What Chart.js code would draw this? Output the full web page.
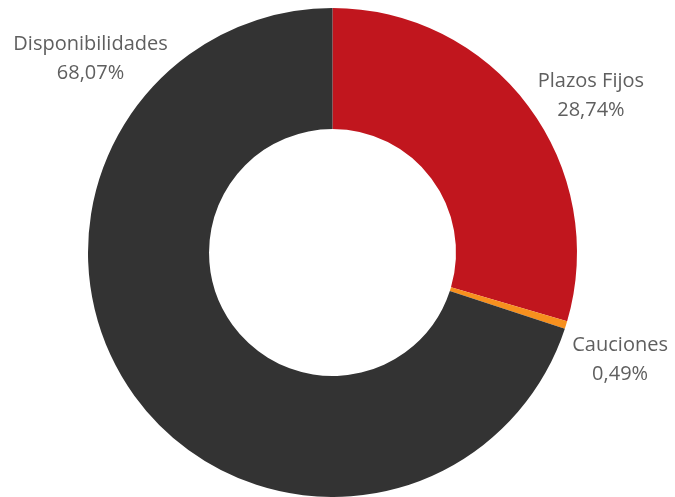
<!DOCTYPE html>
<html>
<head>
<meta charset="utf-8">
<script src="https://cdn.jsdelivr.net/npm/chart.js@4"></script>
<style>
  html, body { margin: 0; padding: 0; background: #fff; }
  #wrap { width: 675px; height: 497px; position: relative; }
</style>
</head>
<body>
<div id="wrap"><canvas id="chart"></canvas></div>
<script>
// Chart data
const categories = ['Plazos Fijos', 'Cauciones', 'Disponibilidades'];
const shares = [28.74, 0.49, 68.07];
const sliceColors = ['#C1161E', '#F7901E', '#333333'];

// where each outside label sits: angle clockwise from 12 o'clock, distance as share of outer radius
const labelSpots = [
    { angle: 58.7, dist: 1.237 },
    { angle: 110.4, dist: 1.255 },
    { angle: 308.7, dist: 1.268 }
];

function fmtPct(v) {
    return v.toFixed(2).replace('.', ',') + '%';
}

const outsideLabels = {
    id: 'outsideLabels',
    afterDatasetsDraw(chart) {
        const ctx = chart.ctx;
        const arcs = chart.getDatasetMeta(0).data;
        ctx.save();
        ctx.font = '20px "Open Sans", "Noto Sans", sans-serif';
        ctx.fillStyle = '#5f5f5f';
        ctx.textAlign = 'center';
        ctx.textBaseline = 'middle';
        arcs.forEach(function(arc, i) {
            const spot = labelSpots[i];
            const a = spot.angle * Math.PI / 180;
            const r = arc.outerRadius * spot.dist;
            const x = arc.x + Math.sin(a) * r;
            const y = arc.y - Math.cos(a) * r;
            ctx.fillText(categories[i], x, y - 14);
            ctx.fillText(fmtPct(shares[i]), x, y + 15);
        });
        ctx.restore();
    }
};

new Chart(document.getElementById('chart'), {
    type: 'doughnut',
    data: {
        labels: categories,
        datasets: [{
            data: shares,
            backgroundColor: sliceColors,
            borderWidth: 0
        }]
    },
    options: {
        responsive: true,
        maintainAspectRatio: false,
        animation: false,
        cutout: '50.5%',
        layout: {
            padding: { left: 88, right: 98, top: 8, bottom: 0 }
        },
        plugins: {
            legend: { display: false },
            tooltip: { enabled: false }
        }
    },
    plugins: [outsideLabels]
});
</script>
</body>
</html>
